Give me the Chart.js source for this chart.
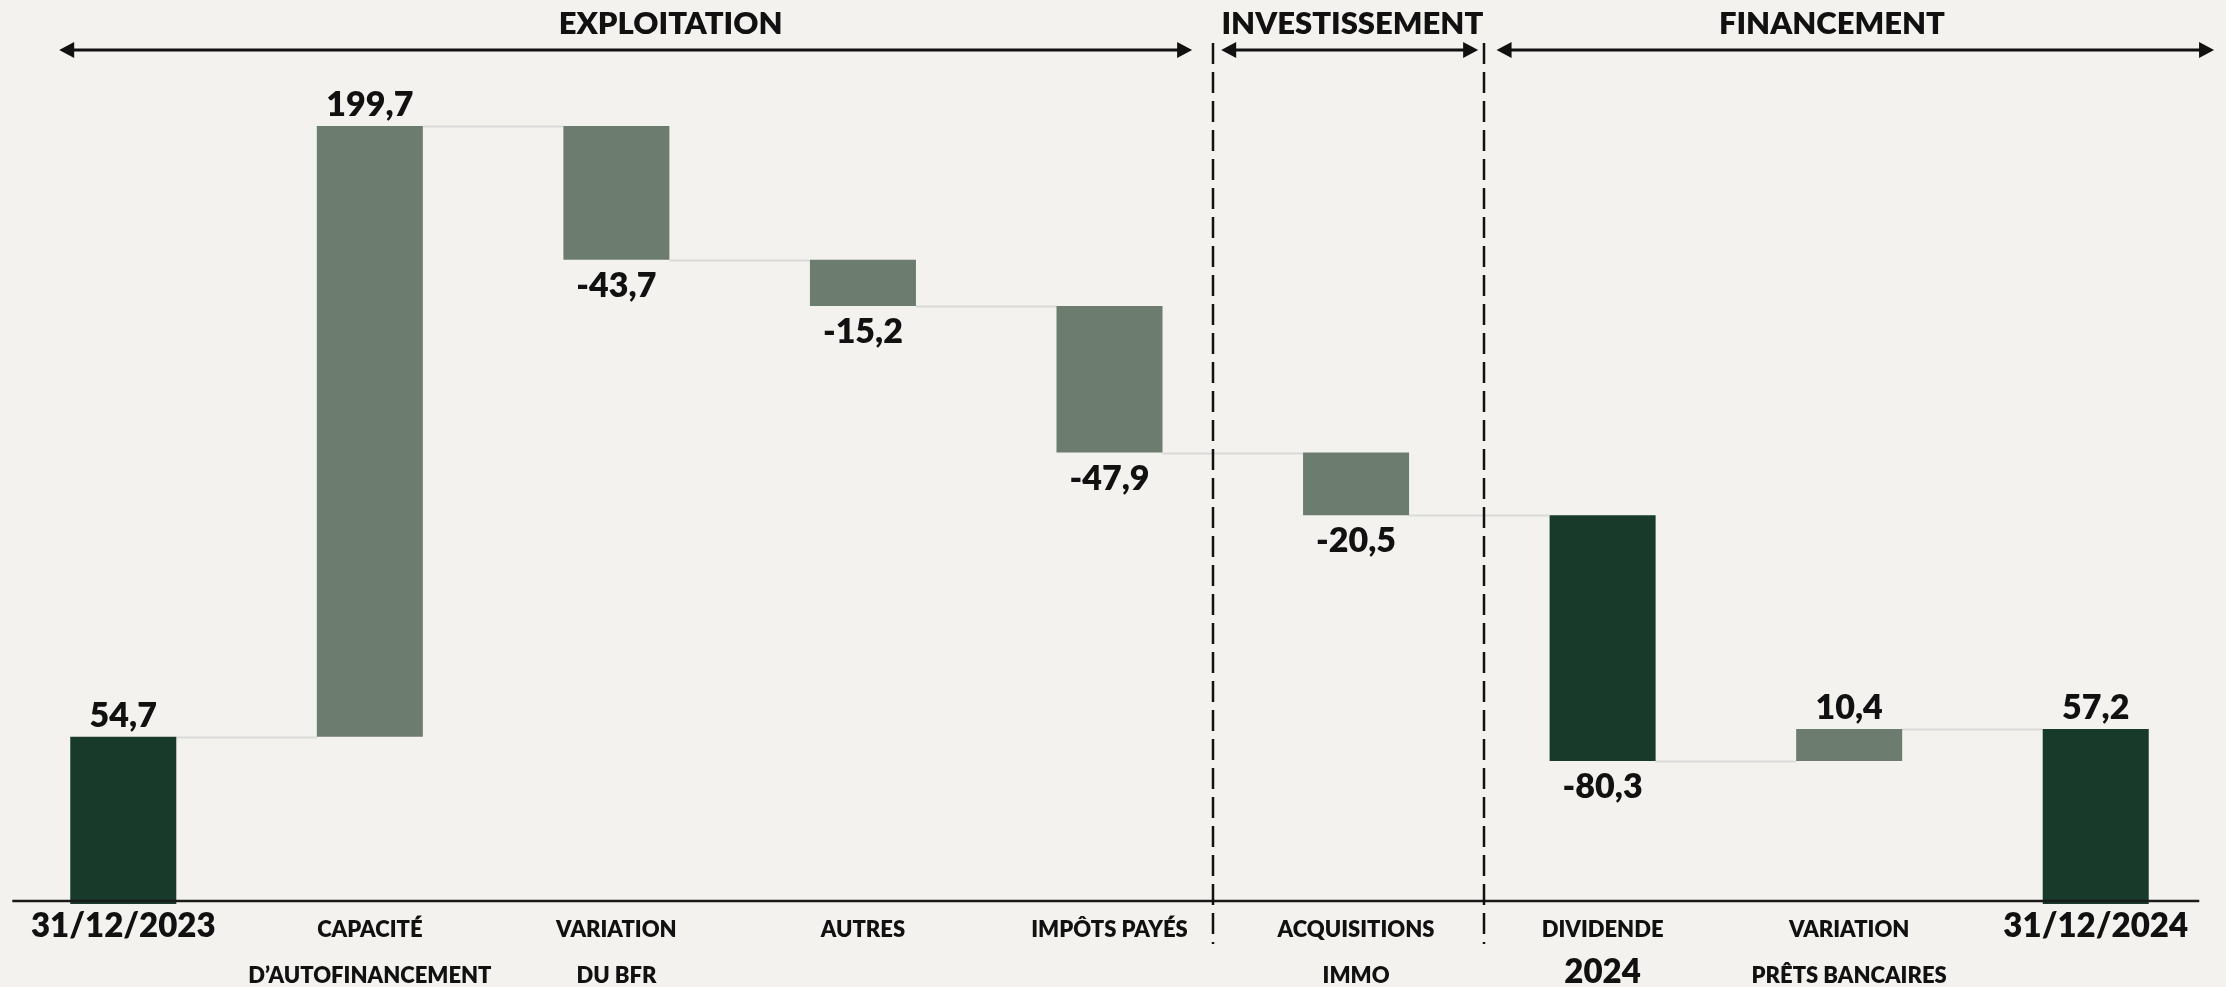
<!DOCTYPE html>
<html lang="fr">
<head>
<meta charset="utf-8">
<title>Flux de trésorerie 2024</title>
<script src="https://cdn.jsdelivr.net/npm/chart.js@4.4.1/dist/chart.umd.min.js"></script>
<style>
    html, body { margin: 0; padding: 0; background: #f3f2ee; }
    #zone { width: 2226px; height: 987px; position: relative; }
</style>
</head>
<body>
<div id="zone"><canvas id="graficoFlux"></canvas></div>
<script>
// données (M€)
const categories = [
    ['31/12/2023'],
    ['CAPACITÉ', 'D\u2019AUTOFINANCEMENT'],
    ['VARIATION', 'DU BFR'],
    ['AUTRES'],
    ['IMPÔTS PAYÉS'],
    ['ACQUISITIONS', 'IMMO'],
    ['DIVIDENDE', '2024'],
    ['VARIATION', 'PRÊTS BANCAIRES'],
    ['31/12/2024']
];
const valeurs = [54.7, 199.7, -43.7, -15.2, -47.9, -20.5, -80.3, 10.4, 57.2];
const estTotal = [true, false, false, false, false, false, false, false, true];
const barresFoncees = [0, 6, 8];

const sections = [
    { titre: 'EXPLOITATION', de: -0.26, a: 4.335, centre: 2.22 },
    { titre: 'INVESTISSEMENT', de: 4.453, a: 5.495, centre: 4.985 },
    { titre: 'FINANCEMENT', de: 5.57, a: 8.48, centre: 6.93 }
];
const separateurs = [4.42, 5.52];

const VERT_FONCE = '#183a2b';
const VERT_GRIS = '#6c7c6f';
const POLICE = 'Lato, "Open Sans", sans-serif';
const GRAS = '800 ';

// barres flottantes du waterfall
let cumul = 0;
const barres = valeurs.map((v, i) => {
    if (estTotal[i]) {
        cumul = v;
        return [0, v];
    }
    const debut = cumul;
    cumul = Math.round((cumul + v) * 10) / 10;
    return [debut, cumul];
});

const format = v => v.toFixed(1).replace('.', ',');

const decorations = {
    id: 'decorations',
    beforeDatasetsDraw(chart) {
        const ctx = chart.ctx;
        const y = chart.scales.y;
        const meta = chart.getDatasetMeta(0);
        ctx.save();
        ctx.strokeStyle = '#dadada';
        ctx.lineWidth = 2;
        for (let i = 0; i < meta.data.length - 1; i++) {
            const a = meta.data[i], b = meta.data[i + 1];
            const niveau = Math.round(y.getPixelForValue(barres[i][1])) + 0.5;
            ctx.beginPath();
            ctx.moveTo(a.x + a.width / 2, niveau);
            ctx.lineTo(b.x - b.width / 2, niveau);
            ctx.stroke();
        }
        ctx.restore();
    },
    afterDatasetsDraw(chart) {
        const ctx = chart.ctx;
        const x = chart.scales.x;
        const y = chart.scales.y;
        const bas = chart.chartArea.bottom;
        const meta = chart.getDatasetMeta(0);
        ctx.save();

        // ligne de base
        ctx.strokeStyle = '#1a1a1a';
        ctx.lineWidth = 2.5;
        ctx.beginPath();
        ctx.moveTo(x.getPixelForValue(-0.45), bas - 3);
        ctx.lineTo(x.getPixelForValue(8.42), bas - 3);
        ctx.stroke();

        // séparateurs pointillés
        ctx.setLineDash([21, 8]);
        ctx.lineWidth = 2.5;
        ctx.strokeStyle = '#111';
        separateurs.forEach(s => {
            const px = Math.round(x.getPixelForValue(s));
            ctx.beginPath();
            ctx.moveTo(px, 43);
            ctx.lineTo(px, bas + 40);
            ctx.stroke();
        });
        ctx.setLineDash([]);

        // flèches + titres des sections
        ctx.fillStyle = '#111';
        ctx.strokeStyle = '#111';
        ctx.lineWidth = 3;
        sections.forEach(s => {
            const x1 = x.getPixelForValue(s.de);
            const x2 = x.getPixelForValue(s.a);
            const ya = 50;
            ctx.beginPath();
            ctx.moveTo(x1 + 10, ya);
            ctx.lineTo(x2 - 10, ya);
            ctx.stroke();
            [[x1, 1], [x2, -1]].forEach(([px, sens]) => {
                ctx.beginPath();
                ctx.moveTo(px, ya);
                ctx.lineTo(px + sens * 15, ya - 8);
                ctx.lineTo(px + sens * 15, ya + 8);
                ctx.closePath();
                ctx.fill();
            });
            ctx.font = GRAS + '31px ' + POLICE;
            ctx.textAlign = 'center';
            ctx.textBaseline = 'alphabetic';
            ctx.fillText(s.titre, x.getPixelForValue(s.centre), 34);
        });

        // valeurs
        ctx.font = GRAS + '34px ' + POLICE;
        ctx.textAlign = 'center';
        ctx.textBaseline = 'alphabetic';
        meta.data.forEach((bar, i) => {
            const v = valeurs[i];
            if (v >= 0) {
                const haut = y.getPixelForValue(Math.max(...barres[i]));
                ctx.fillText(format(v), bar.x, haut - 10);
            } else {
                const fond = y.getPixelForValue(Math.min(...barres[i]));
                ctx.fillText(format(v), bar.x, fond + 37);
            }
        });

        // libellés des catégories
        categories.forEach((lignes, i) => {
            const px = x.getPixelForValue(i);
            lignes.forEach((txt, j) => {
                const grand = /^[\d\/]+$/.test(txt);
                ctx.font = GRAS + (grand ? 33 : 22) + 'px ' + POLICE;
                ctx.fillText(txt, px, bas + 33 + j * 46);
            });
        });
        ctx.restore();
    }
};

const ctx = document.getElementById('graficoFlux').getContext('2d');
const chart = new Chart(ctx, {
    type: 'bar',
    data: {
        labels: categories,
        datasets: [{
            data: barres,
            backgroundColor: valeurs.map((v, i) => barresFoncees.includes(i) ? VERT_FONCE : VERT_GRIS),
            borderWidth: 0,
            barPercentage: 0.43,
            categoryPercentage: 1
        }]
    },
    options: {
        responsive: true,
        maintainAspectRatio: false,
        animation: false,
        layout: { padding: { left: 0, right: 7, top: 0, bottom: 0 } },
        plugins: {
            legend: { display: false },
            tooltip: { enabled: false }
        },
        scales: {
            y: {
                display: false,
                min: 0,
                max: 295.6
            },
            x: {
                grid: { display: false },
                border: { display: false },
                ticks: { display: false },
                afterFit(scale) { scale.height = 83; }
            }
        }
    },
    plugins: [decorations]
});
</script>
</body>
</html>
